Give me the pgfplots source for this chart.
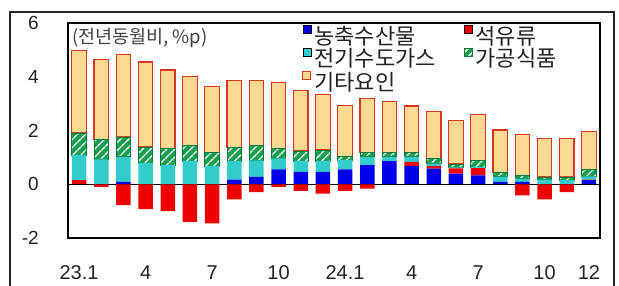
\documentclass[border=0pt]{standalone}
\usepackage{pgfplots}
\pgfplotsset{compat=1.18}
\usepackage{pgfplotstable}
\usepackage{fontspec}
\setmainfont{Liberation Sans}
\newfontfamily\kr{Noto Sans CJK KR}
\usetikzlibrary{patterns.meta}

\definecolor{cBlue}{RGB}{0,0,235}
\definecolor{cRed}{RGB}{240,0,0}
\definecolor{cTeal}{RGB}{51,204,204}
\definecolor{cGreen}{RGB}{20,160,80}
\definecolor{cOrgFill}{RGB}{255,217,145}
\definecolor{cOrgLine}{RGB}{215,55,30}
\definecolor{cText}{RGB}{35,35,35}

% x: month index (0 = 23.1 ... 23 = 24.12); values in %p
\pgfplotstableread{
x  agri oil  elec food other oilneg
0  0.00 0.15 0.93 0.83 3.08  0.00
1  0.00 0.00 0.93 0.74 2.98 -0.10
2  0.09 0.00 0.93 0.74 3.08 -0.78
3  0.00 0.00 0.79 0.60 3.16 -0.93
4  0.00 0.00 0.71 0.62 2.92 -1.00
5  0.00 0.00 0.87 0.58 2.57 -1.40
6  0.00 0.00 0.67 0.50 2.48 -1.46
7  0.17 0.00 0.69 0.52 2.48 -0.56
8  0.27 0.00 0.62 0.56 2.42 -0.29
9  0.55 0.00 0.41 0.37 2.46 -0.10
10 0.46 0.00 0.41 0.37 2.26 -0.25
11 0.46 0.00 0.41 0.40 2.08 -0.35
12 0.55 0.00 0.35 0.12 1.92 -0.25
13 0.71 0.00 0.31 0.15 2.02 -0.16
14 0.86 0.00 0.16 0.15 1.90  0.00
15 0.68 0.15 0.19 0.15 1.74  0.00
16 0.58 0.09 0.10 0.19 1.74  0.00
17 0.40 0.19 0.04 0.12 1.63  0.00
18 0.33 0.27 0.04 0.25 1.71  0.00
19 0.09 0.00 0.19 0.15 1.59  0.00
20 0.09 0.00 0.12 0.12 1.51 -0.41
21 0.00 0.00 0.17 0.10 1.43 -0.56
22 0.00 0.00 0.15 0.12 1.43 -0.29
23 0.15 0.02 0.12 0.25 1.43  0.00
}\data

\pgfplotsset{
  sqlegend/.style={legend image code/.code={\draw[##1] (0bp,5bp) rectangle (8bp,13bp);}},
  common/.style={
    at={(68bp,48bp)}, anchor=south west,
    width=532bp, height=215bp, scale only axis,
    xmin=-0.5, xmax=23.5, ymin=-2, ymax=6,
    enlargelimits=false,
    ybar stacked, bar width=14.5bp,
  },
}

\begin{document}
\begin{tikzpicture}
\begin{axis}[
  common,
  axis line style={black, line width=1.3bp},
  ytick={-2,0,2,4,6},
  xtick={0,3,6,9,12,15,18,21,23},
  xticklabels={23.1,4,7,10,24.1,4,7,10,12},
  major tick length=0pt,
  /pgf/number format/assume math mode=true,
  yticklabel style={anchor=east, inner sep=0pt, xshift=-29bp, font=\fontsize{19bp}{19bp}\selectfont, text=cText},
  xticklabel style={anchor=center, inner sep=0pt, yshift=-35bp, font=\fontsize{20bp}{20bp}\selectfont, text=cText},
  legend columns=2,
  legend cell align=left,
  legend style={draw=none, fill=none, at={(0.4398,0.99)}, anchor=north west,
    inner sep=0pt, row sep=-1bp,
    nodes={inner sep=0pt, text height=16bp, text depth=5bp},
    font=\kr\fontsize{22bp}{22bp}\selectfont, text=cText,
    /tikz/every odd column/.append style={column sep=3bp},
    /tikz/every even column/.append style={column sep=28bp}},
]
\addplot[fill=cBlue, draw=none, sqlegend] table[x=x, y=agri] {\data};
\addlegendentry{농축수산물}
\addplot[fill=cRed, draw=none, sqlegend] table[x=x, y=oil] {\data};
\addlegendentry{석유류}
\addplot[fill=cTeal, draw=none, sqlegend] table[x=x, y=elec] {\data};
\addlegendentry{전기수도가스}
\addplot[fill=cGreen, draw=cGreen!75!black, line width=0.7bp,
  postaction={pattern={Lines[angle=45,distance=6bp,line width=1.8bp]}, pattern color=white},
  sqlegend] table[x=x, y=food] {\data};
\addlegendentry{가공식품}
\addplot[fill=cOrgFill, draw=cOrgLine, line width=1.3bp, sqlegend] table[x=x, y=other] {\data};
\addlegendentry{기타요인}
\node[anchor=west, inner sep=0pt, text=black!75, font=\kr\fontsize{18.5bp}{18.5bp}\selectfont]
  at (rel axis cs:0.0075,0.930) {(전년동월비, \%p)};
\end{axis}
\begin{axis}[common, hide axis]
\addplot[fill=cRed, draw=none] table[x=x, y=oilneg] {\data};
\draw[black, line width=1.2bp] (axis cs:-0.5,0) -- (axis cs:23.5,0);
\draw[black, line width=1.3bp] (rel axis cs:0,0) rectangle (rel axis cs:1,1);
\end{axis}
\draw[black!85, line width=1.3bp] (10bp,-10bp) -- (10bp,274bp) -- (614bp,274bp) -- (614bp,-10bp);
\pgfresetboundingbox
\path[use as bounding box] (0bp,0bp) rectangle (619bp,286bp);
\end{tikzpicture}
\end{document}
